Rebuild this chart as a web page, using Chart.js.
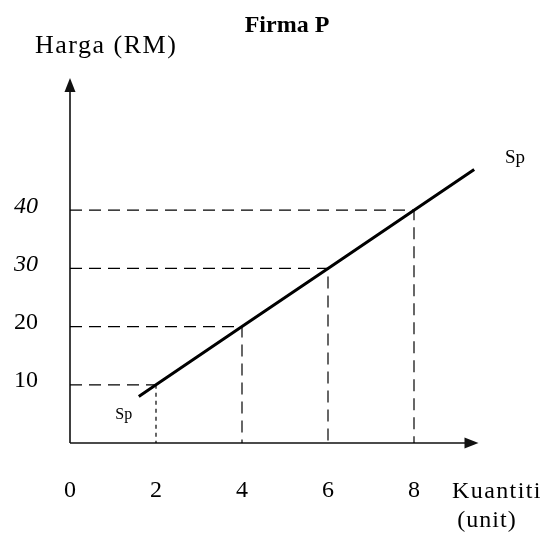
<!DOCTYPE html>
<html>
<head>
<meta charset="utf-8">
<script src="https://cdn.jsdelivr.net/npm/chart.js@4"></script>
<style>
  html, body { margin: 0; padding: 0; background: #fff; }
  #wrap { width: 542px; height: 536px; position: relative; }
</style>
</head>
<body>
<div id="wrap"><canvas id="supplyChart"></canvas></div>
<script>
// Firma P - supply curve Sp
const xTicks = [0, 2, 4, 6, 8];
const yTicks = [10, 20, 30, 40];

// Sp line (quantity, price)
const supplyQty = [1.6, 2, 4, 6, 8, 9.4];
const supplyPrice = [8, 10, 20, 30, 40, 47];

// dashed guide corners
const guideQty = [2, 4, 6, 8];
const guidePrice = [10, 20, 30, 40];

// curve labels
const curveText = ['Sp', 'Sp'];
const curveQty = [10.35, 1.25];
const curvePrice = [49, 4.8];

const serif = '"Liberation Serif", "Times New Roman", serif';
const curveFontSize = [19, 16];
const xArrowEnd = 9.5;
const yArrowEnd = 62.7;

const supplyData = supplyQty.map((q, i) => ({ x: q, y: supplyPrice[i] }));

const guideSets = guideQty.map((q, i) => ({
    data: [{ x: 0, y: guidePrice[i] }, { x: q, y: guidePrice[i] }, { x: q, y: 0 }],
    borderColor: '#000',
    borderWidth: 1.2,
    borderDash: [12, 7],
    segment: {
        borderDash: ctx => (q === 2 && ctx.p0.parsed.x === ctx.p1.parsed.x) ? [4, 4] : undefined
    },
    pointRadius: 0,
    showLine: true,
    fill: false
}));

// axes with arrow heads + free text
const decorPlugin = {
    id: 'decor',
    beforeDatasetsDraw(chart) {
        const ctx = chart.ctx;
        const xs = chart.scales.x, ys = chart.scales.y;
        const x0 = xs.getPixelForValue(0), y0 = ys.getPixelForValue(0);
        const xe = xs.getPixelForValue(xArrowEnd), ye = ys.getPixelForValue(yArrowEnd);
        ctx.save();
        ctx.strokeStyle = '#111';
        ctx.fillStyle = '#111';
        ctx.lineWidth = 1.6;
        ctx.beginPath();
        ctx.moveTo(x0, y0);
        ctx.lineTo(xe - 8, y0);
        ctx.moveTo(x0, y0);
        ctx.lineTo(x0, ye + 8);
        ctx.stroke();
        ctx.beginPath();
        ctx.moveTo(xe, y0);
        ctx.lineTo(xe - 14, y0 - 5.5);
        ctx.lineTo(xe - 14, y0 + 5.5);
        ctx.closePath();
        ctx.fill();
        ctx.beginPath();
        ctx.moveTo(x0, ye);
        ctx.lineTo(x0 - 5.5, ye + 14);
        ctx.lineTo(x0 + 5.5, ye + 14);
        ctx.closePath();
        ctx.fill();
        ctx.restore();
    },
    afterDraw(chart) {
        const ctx = chart.ctx;
        const xs = chart.scales.x, ys = chart.scales.y;
        ctx.save();
        ctx.fillStyle = '#000';
        ctx.textBaseline = 'alphabetic';

        ctx.font = 'bold 24px ' + serif;
        ctx.textAlign = 'center';
        ctx.fillText('Firma P', 287, 32);

        ctx.font = '26px ' + serif;
        ctx.textAlign = 'left';
        ctx.letterSpacing = '1.5px';
        ctx.fillText('Harga (RM)', 35, 53);

        ctx.font = '24px ' + serif;
        ctx.letterSpacing = '1.4px';
        ctx.fillText('Kuantiti', 452, 498);
        ctx.letterSpacing = '1px';
        ctx.textAlign = 'center';
        ctx.fillText('(unit)', 487, 527);
        ctx.letterSpacing = '0px';

        ctx.textBaseline = 'middle';
        curveText.forEach((t, i) => {
            ctx.font = curveFontSize[i] + 'px ' + serif;
            ctx.fillText(t, xs.getPixelForValue(curveQty[i]), ys.getPixelForValue(curvePrice[i]));
        });
        ctx.restore();
    }
};

new Chart(document.getElementById('supplyChart'), {
    type: 'scatter',
    data: {
        datasets: [{
            label: 'Sp',
            data: supplyData,
            borderColor: '#000',
            borderWidth: 3,
            pointRadius: 0,
            showLine: true,
            fill: false
        }, ...guideSets]
    },
    options: {
        responsive: true,
        maintainAspectRatio: false,
        animation: false,
        layout: { padding: { top: 70.5, right: 20.5, left: 0, bottom: 0 } },
        plugins: {
            legend: { display: false },
            tooltip: { enabled: false },
            title: { display: false }
        },
        scales: {
            x: {
                type: 'linear',
                min: 0,
                max: 10.5,
                grid: { display: false, drawTicks: false },
                border: { display: false },
                afterBuildTicks: scale => { scale.ticks = xTicks.map(v => ({ value: v })); },
                afterFit: scale => { scale.height = 93; },
                ticks: {
                    color: '#000',
                    padding: 33,
                    maxRotation: 0,
                    autoSkip: false,
                    font: { family: serif, size: 24 }
                }
            },
            y: {
                type: 'linear',
                min: 0,
                max: 64,
                grid: { display: false, drawTicks: false },
                border: { display: false },
                afterBuildTicks: scale => { scale.ticks = yTicks.map(v => ({ value: v })); },
                afterFit: scale => { scale.width = 70; },
                ticks: {
                    color: '#000',
                    padding: 32,
                    labelOffset: -4,
                    autoSkip: false,
                    font: ctx => ({
                        family: serif,
                        size: 24,
                        style: (ctx.tick && ctx.tick.value >= 30) ? 'italic' : 'normal'
                    })
                }
            }
        }
    },
    plugins: [decorPlugin]
});
</script>
</body>
</html>
